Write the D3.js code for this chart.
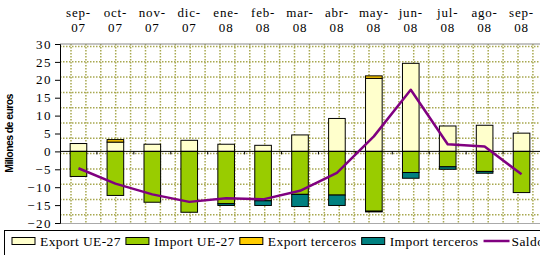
<!DOCTYPE html>
<html>
<head>
<meta charset="utf-8">
<script src="https://cdn.jsdelivr.net/npm/d3@7"></script>
<style>
  body { margin: 0; background: #fff; }
  svg { display: block; }
</style>
</head>
<body>
<svg id="chart" width="540" height="255"></svg>
<script>
const months = ["sep-07", "oct-07", "nov-07", "dic-07", "ene-08", "feb-08", "mar-08",
  "abr-08", "may-08", "jun-08", "jul-08", "ago-08", "sep-08"];
const exportUE = [2.2, 2.6, 2.0, 3.1, 2.0, 1.7, 4.6, 9.2, 20.4, 24.6, 7.1, 7.3, 5.1];
const exportTer = [0, 0.7, 0, 0, 0, 0, 0, 0, 0.7, 0, 0, 0, 0];
const importUE = [-7.0, -12.3, -14.2, -17.0, -14.6, -13.8, -12.0, -12.2, -16.7, -5.9, -4.3, -5.6, -11.5];
const importTer = [0, 0, 0, 0, -0.5, -1.3, -3.4, -2.9, -0.2, -1.6, -0.7, -0.5, 0];
const saldo = [-4.7, -9.0, -12.0, -14.1, -13.1, -13.4, -11.0, -6.0, 4.2, 17.2, 2.0, 1.4, -6.4];
const yTicks = [30, 25, 20, 15, 10, 5, 0, -5, -10, -15, -20];

const series = [
  { name: "Export UE-27", color: "#ffffcc" },
  { name: "Import UE-27", color: "#99cc00" },
  { name: "Export terceros", color: "#ffcc00" },
  { name: "Import terceros", color: "#008080" },
  { name: "Saldo", color: "#800080", line: true }
];

const SERIF = "'Liberation Serif', 'Times New Roman', serif";
const svg = d3.select("#chart");
const plot = { left: 60, right: 540, top: 44, bottom: 223 };

const x = d3.scaleBand()
  .domain(months)
  .range([plot.left, plot.right])
  .paddingInner(0.55)
  .paddingOuter(0.275);
const step = x.step();
const y = d3.scaleLinear().domain([-20, 30]).range([plot.bottom, plot.top]);

// dotted grid (pattern fill of the plot area in the original)
const gridCol = "#a8a850";
const grid = svg.append("g");
grid.selectAll("line.h")
  .data(d3.range(plot.top + 2.5, plot.bottom, 15.3))
  .join("line")
    .attr("class", "h")
    .attr("x1", plot.left).attr("x2", plot.right)
    .attr("y1", d => d).attr("y2", d => d)
    .attr("stroke", gridCol).attr("stroke-width", 1.5)
    .attr("stroke-dasharray", "1.5,1.5");
grid.selectAll("line.v")
  .data(d3.range(plot.left + 11, plot.right, 14.9))
  .join("line")
    .attr("class", "v")
    .attr("x1", d => d).attr("x2", d => d)
    .attr("y1", plot.top).attr("y2", plot.bottom)
    .attr("stroke", gridCol).attr("stroke-width", 1.5)
    .attr("stroke-dasharray", "1.5,1.5");

svg.append("line")
  .attr("x1", plot.left).attr("x2", plot.right)
  .attr("y1", plot.top).attr("y2", plot.top)
  .attr("stroke", "#888").attr("stroke-width", 1);
svg.append("line")
  .attr("x1", plot.left).attr("x2", plot.right)
  .attr("y1", plot.bottom + 0.5).attr("y2", plot.bottom + 0.5)
  .attr("stroke", "#aaa").attr("stroke-width", 1);

// stacked segments
const segs = [];
months.forEach((m, i) => {
  segs.push({ m, y0: 0, y1: exportUE[i], c: series[0].color });
  segs.push({ m, y0: exportUE[i], y1: exportUE[i] + exportTer[i], c: series[2].color });
  segs.push({ m, y0: 0, y1: importUE[i], c: series[1].color });
  segs.push({ m, y0: importUE[i], y1: importUE[i] + importTer[i], c: series[3].color });
});

svg.append("g").selectAll("rect")
  .data(segs.filter(d => d.y1 !== d.y0))
  .join("rect")
    .attr("x", d => x(d.m))
    .attr("width", x.bandwidth())
    .attr("y", d => y(Math.max(d.y0, d.y1)))
    .attr("height", d => Math.abs(y(d.y0) - y(d.y1)))
    .attr("fill", d => d.c)
    .attr("stroke", "#000")
    .attr("stroke-width", 1);

// y axis
const yAxis = d3.axisLeft(y).tickValues(yTicks).tickSize(5).tickPadding(3);
const gy = svg.append("g")
  .attr("transform", `translate(${plot.left},0)`)
  .call(yAxis);
gy.attr("font-family", SERIF).attr("font-size", 13);
gy.select(".domain").attr("stroke", "#000");
gy.selectAll(".tick line").attr("stroke", "#000");
gy.selectAll(".tick text")
  .attr("letter-spacing", 1.5)
  .attr("fill", "#000");

// category axis at zero
svg.append("line")
  .attr("x1", plot.left).attr("x2", plot.right)
  .attr("y1", y(0)).attr("y2", y(0))
  .attr("stroke", "#000").attr("stroke-width", 1);
svg.append("g").selectAll("line")
  .data(months.slice(1))
  .join("line")
    .attr("x1", d => x(d) - step * x.paddingInner() / 2)
    .attr("x2", d => x(d) - step * x.paddingInner() / 2)
    .attr("y1", y(0)).attr("y2", y(0) + 3)
    .attr("stroke", "#000");

// month labels on top
const lbl = svg.append("g")
  .attr("font-family", SERIF)
  .attr("font-size", 13)
  .selectAll("text")
  .data(months)
  .join("text")
    .attr("text-anchor", "middle")
    .attr("letter-spacing", 0.8)
    .attr("fill", "#000");
lbl.append("tspan")
  .attr("x", d => x(d) + x.bandwidth() / 2)
  .attr("y", 17)
  .text(d => d.split("-")[0] + "-");
lbl.append("tspan")
  .attr("x", d => x(d) + x.bandwidth() / 2)
  .attr("y", 32)
  .text(d => d.split("-")[1]);

// saldo line
svg.append("path")
  .datum(saldo)
  .attr("fill", "none")
  .attr("stroke", series[4].color)
  .attr("stroke-width", 2.5)
  .attr("stroke-linejoin", "round")
  .attr("d", d3.line()
    .x((d, i) => x(months[i]) + x.bandwidth() / 2)
    .y(d => y(d)));

// y axis title
svg.append("text")
  .attr("transform", `translate(13,${(plot.top + plot.bottom) / 2}) rotate(-90)`)
  .attr("text-anchor", "middle")
  .attr("font-family", "'Liberation Sans', Arial, sans-serif")
  .attr("font-weight", "bold")
  .attr("font-size", 10.5)
  .attr("letter-spacing", -0.6)
  .attr("fill", "#000")
  .text("Millones de euros");

// legend (cut at the right edge, as in the source image)
const leg = svg.append("g").attr("font-family", SERIF);
leg.append("rect")
  .attr("x", 4.5).attr("y", 230.5)
  .attr("width", 600).attr("height", 30)
  .attr("fill", "#fff").attr("stroke", "#000");
let lx = 12;
series.forEach(s => {
  if (s.line) {
    leg.append("line")
      .attr("x1", lx).attr("x2", lx + 26)
      .attr("y1", 241).attr("y2", 241)
      .attr("stroke", s.color).attr("stroke-width", 2.5);
  } else {
    leg.append("rect")
      .attr("x", lx).attr("y", 237.5)
      .attr("width", 23).attr("height", 7)
      .attr("fill", s.color).attr("stroke", "#000");
  }
  const t = leg.append("text")
    .attr("x", lx + 28).attr("y", 245.5)
    .attr("font-size", 13.5)
    .attr("letter-spacing", 0.4)
    .attr("fill", "#000")
    .text(s.name);
  lx += 28 + t.node().getComputedTextLength() + 5;
});
</script>
</body>
</html>
